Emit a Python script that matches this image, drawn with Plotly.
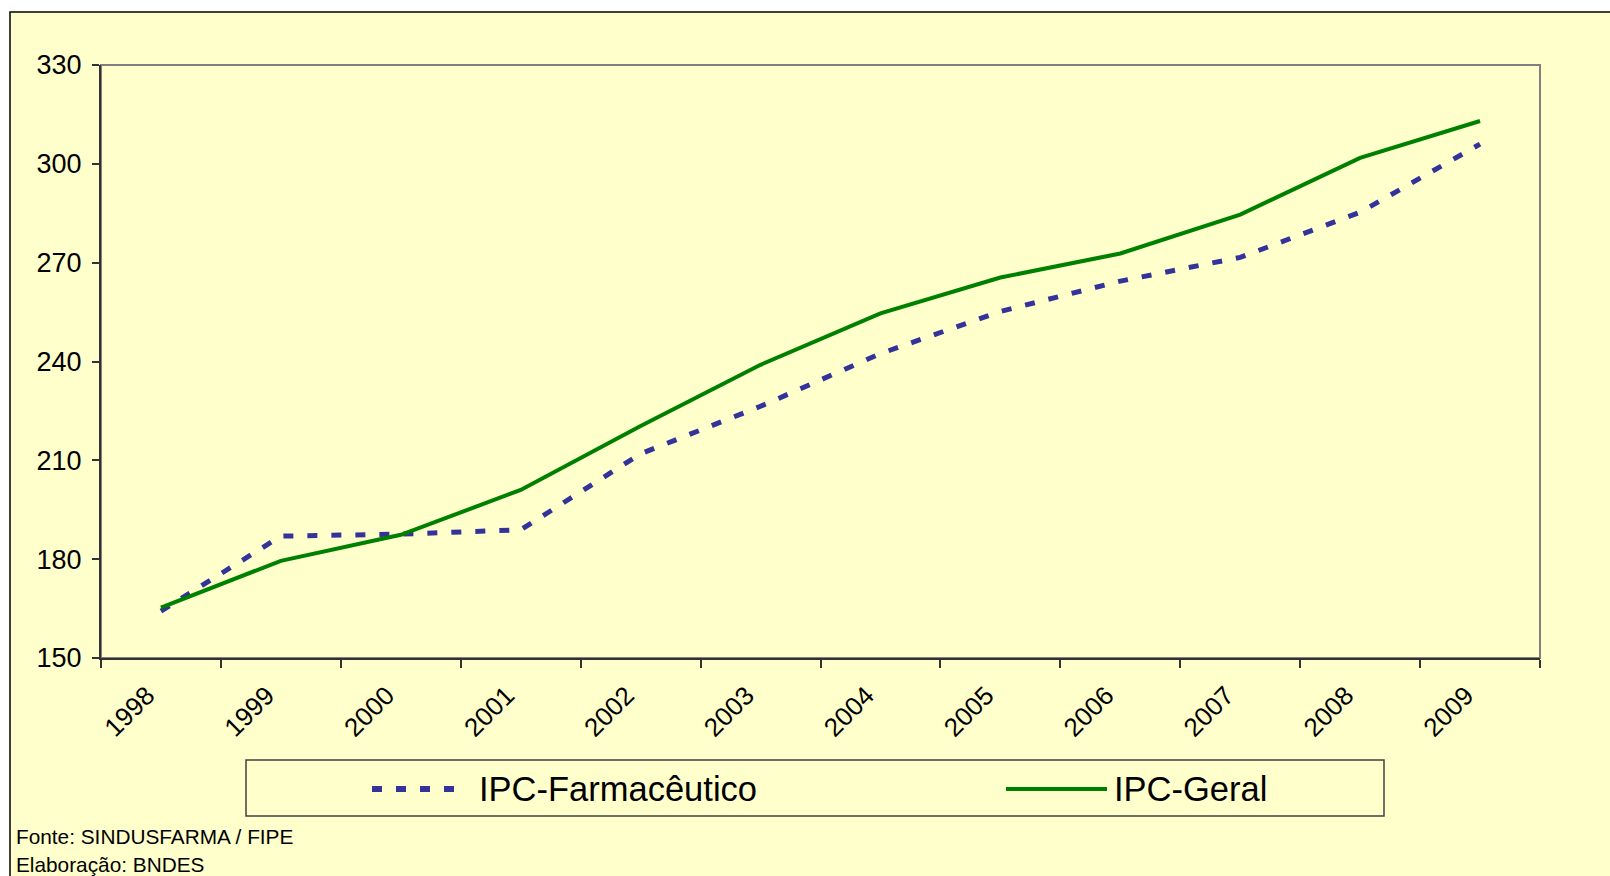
import plotly.graph_objects as go

# ---- data ----
years = ["1998", "1999", "2000", "2001", "2002", "2003", "2004", "2005", "2006", "2007", "2008", "2009"]
ipc_farmaceutico = [164.2, 187.0, 187.6, 188.9, 212.0, 226.4, 242.4, 255.2, 264.4, 271.6, 285.3, 306.0]
ipc_geral = [165.3, 179.5, 187.4, 201.0, 220.4, 239.0, 254.6, 265.5, 272.8, 284.6, 301.8, 313.0]
y_ticks = [150, 180, 210, 240, 270, 300, 330]
series_names = ["IPC-Farmacêutico", "IPC-Geral"]
source_lines = ["Fonte: SINDUSFARMA / FIPE", "Elaboração: BNDES"]

# ---- layout geometry (pixels) ----
W, H = 1610, 876
L, R, T, B = 101, 70, 65, 218
PW, PH = W - L - R, H - T - B
BG = "#FFFFCC"
BLUE = "#333399"
GREEN = "#008000"
FONT = "Liberation Sans, Arial"


def px(x):
    return (x - L) / PW


def py(y):
    return (H - B - y) / PH


fig = go.Figure()
fig.add_trace(go.Scatter(x=years, y=ipc_farmaceutico, name=series_names[0], mode="lines",
                         line=dict(color=BLUE, width=5, dash="10px,14px")))
fig.add_trace(go.Scatter(x=years, y=ipc_geral, name=series_names[1], mode="lines",
                         line=dict(color=GREEN, width=4)))

shapes = [
    # outer chart area
    dict(type="rect", xref="paper", yref="paper", x0=px(10), x1=px(W + 50), y0=py(12), y1=py(H + 50),
         fillcolor=BG, line=dict(color="black", width=1.5), layer="below"),
    # plot area border (grey)
    dict(type="rect", xref="paper", yref="paper", x0=0, x1=1, y0=0, y1=1,
         line=dict(color="#808080", width=2), layer="below"),
    # legend box
    dict(type="rect", xref="paper", yref="paper", x0=px(246), x1=px(1384), y0=py(760), y1=py(816),
         fillcolor=BG, line=dict(color="#404040", width=1.5)),
    dict(type="line", xref="paper", yref="paper", x0=px(372), x1=px(456), y0=py(789), y1=py(789),
         line=dict(color=BLUE, width=6, dash="10px,14px")),
    dict(type="line", xref="paper", yref="paper", x0=px(1006), x1=px(1107), y0=py(789), y1=py(789),
         line=dict(color=GREEN, width=4)),
]

annotations = [
    dict(text=series_names[0], xref="paper", yref="paper", x=px(477), y=py(789), xanchor="left",
         yanchor="middle", showarrow=False, font=dict(family=FONT, size=34.5, color="black")),
    dict(text=series_names[1], xref="paper", yref="paper", x=px(1112), y=py(789), xanchor="left",
         yanchor="middle", showarrow=False, font=dict(family=FONT, size=34.5, color="black")),
    dict(text=source_lines[0], xref="paper", yref="paper", x=px(14), y=py(836), xanchor="left",
         yanchor="middle", showarrow=False, font=dict(family=FONT, size=20.8, color="black")),
    dict(text=source_lines[1], xref="paper", yref="paper", x=px(14), y=py(864), xanchor="left",
         yanchor="middle", showarrow=False, font=dict(family=FONT, size=20.8, color="black")),
]

fig.update_layout(
    width=W, height=H,
    margin=dict(l=L, r=R, t=T, b=B, pad=0),
    paper_bgcolor="white",
    plot_bgcolor=BG,
    showlegend=False,
    shapes=shapes,
    annotations=annotations,
    xaxis=dict(type="category", tickson="boundaries", ticks="outside", ticklen=8, tickwidth=1.5,
               tickcolor="#333333", showline=True, linecolor="#333333", linewidth=2,
               showgrid=False, zeroline=False, tickangle=-45, ticklabelstandoff=10,
               ticklabelshift=-14,
               tickfont=dict(family=FONT, size=26, color="black"), range=[-0.5, 11.5]),
    yaxis=dict(range=[150, 330], tickvals=y_ticks, ticks="outside", ticklen=7, tickwidth=1.5,
               tickcolor="#333333", showline=True, linecolor="#333333", linewidth=2,
               showgrid=False, zeroline=False, ticklabelstandoff=5,
               tickfont=dict(family=FONT, size=27, color="black")),
)

fig.write_html("out.html", config={"displayModeBar": False},
               post_script="document.body.style.margin='0';document.body.style.overflow='hidden';")
